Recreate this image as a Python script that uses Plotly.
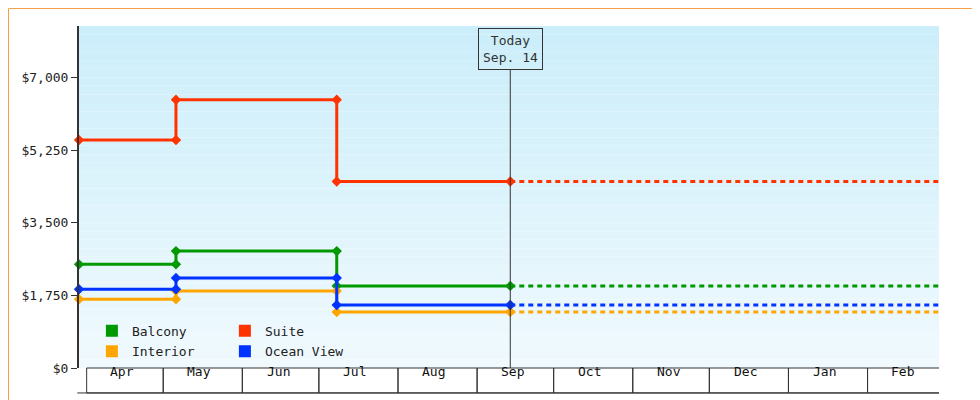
import plotly.graph_objects as go

# price history (step changes)
dates = ["2023-03-29", "2023-05-06", "2023-05-06", "2023-07-08", "2023-07-08", "2023-09-14"]
suite = [5500, 5500, 6470, 6470, 4500, 4500]
balcony = [2500, 2500, 2820, 2820, 1980, 1980]
ocean_view = [1900, 1900, 2170, 2170, 1520, 1520]
interior = [1660, 1660, 1860, 1860, 1350, 1350]
today = "2023-09-14"
end_date = "2024-02-29"
months = ["Apr", "May", "Jun", "Jul", "Aug", "Sep", "Oct", "Nov", "Dec", "Jan", "Feb"]
month_starts = ["2023-04-01", "2023-05-01", "2023-06-01", "2023-07-01", "2023-08-01", "2023-09-01",
                "2023-10-01", "2023-11-01", "2023-12-01", "2024-01-01", "2024-02-01", "2024-03-01"]
y_ticks = [0, 1750, 3500, 5250, 7000]
y_labels = ["$0", "$1,750", "$3,500", "$5,250", "$7,000"]

series = [("Balcony", balcony, "#009900", "legend"), ("Suite", suite, "#ff3300", "legend"),
          ("Interior", interior, "#ffa500", "legend2"), ("Ocean View", ocean_view, "#0033ff", "legend2")]

FONT = "DejaVu Sans Mono"
fig = go.Figure()

# gradient background bands
n = 40
for i in range(n):
    t = i / (n - 1)
    r = int(204 + (240 - 204) * t)
    g = int(238 + (250 - 238) * t)
    b = int(250 + (254 - 250) * t)
    fig.add_shape(type="rect", xref="paper", yref="paper", x0=0, x1=1, y0=1 - (i + 1) / n, y1=1 - i / n,
                  fillcolor=f"rgb({r},{g},{b})", line_width=0, layer="below")

for name, vals, color, lg in series:
    fig.add_trace(go.Scatter(x=dates, y=vals, mode="lines+markers", line=dict(color=color, width=3),
                             marker=dict(symbol="diamond", size=8, color=color), showlegend=False,
                             cliponaxis=False))
    fig.add_trace(go.Scatter(x=[today, end_date], y=[vals[-1], vals[-1]], mode="lines",
                             line=dict(color=color, width=3, dash="5px,4px"), showlegend=False))
    fig.add_trace(go.Scatter(x=[None], y=[None], mode="markers", name=name, legend=lg,
                             marker=dict(symbol="square", size=12, color=color)))

# today line and label
fig.add_shape(type="line", x0=today, x1=today, xref="x", yref="paper", y0=0, y1=0.874,
              line=dict(color="#333333", width=1))
fig.add_annotation(x=today, xref="x", yref="paper", y=0.994, yanchor="top", text="Today<br>Sep. 14",
                   showarrow=False, bordercolor="#333333", borderwidth=1, borderpad=4,
                   bgcolor="rgba(0,0,0,0)", font=dict(family=FONT, size=13, color="#333"))

# month boxes under the axis
for i, m in enumerate(months):
    fig.add_shape(type="rect", xref="x", yref="paper", x0=month_starts[i], x1=month_starts[i + 1],
                  y0=-0.073, y1=0, line=dict(color="#333333", width=1))
    mid = month_starts[i][:8] + "15"
    fig.add_annotation(x=mid, xref="x", yref="paper", y=-0.037, text=m, showarrow=False,
                       font=dict(family=FONT, size=13, color="#111"))
fig.add_shape(type="line", xref="paper", yref="paper", x0=-0.002, x1=1, y0=-0.073, y1=-0.073,
              line=dict(color="#333333", width=1))

# orange page border
W, H = 860, 342
fig.add_shape(type="rect", xref="paper", yref="paper", x0=-70.5 / W, x1=1 + 48.5 / W,
              y0=-39.5 / H, y1=1 + 17.5 / H, line=dict(color="#f5a04a", width=1))

legend_style = dict(orientation="h", xanchor="left", yanchor="bottom", bgcolor="rgba(0,0,0,0)",
                    font=dict(family=FONT, size=13, color="#222"), itemwidth=30, entrywidth=88,
                    tracegroupgap=0)
fig.update_layout(
    width=980, height=400, margin=dict(l=71, r=49, t=18, b=40, autoexpand=False),
    paper_bgcolor="white", plot_bgcolor="rgba(0,0,0,0)",
    font=dict(family=FONT, size=13, color="#222"),
    xaxis=dict(type="date", range=["2023-03-29", end_date], showticklabels=False, showgrid=False,
               zeroline=False, ticks="", automargin=False),
    yaxis=dict(range=[0, 8250], tickvals=y_ticks, ticktext=y_labels, showgrid=False, zeroline=False,
               showline=True, linecolor="#333333", linewidth=2, ticks="outside", ticklen=6,
               tickcolor="#333333", automargin=False),
    legend=dict(x=0.015, y=0.065, **legend_style),
    legend2=dict(x=0.015, y=0.005, **legend_style),
)

fig.write_html("out.html")
